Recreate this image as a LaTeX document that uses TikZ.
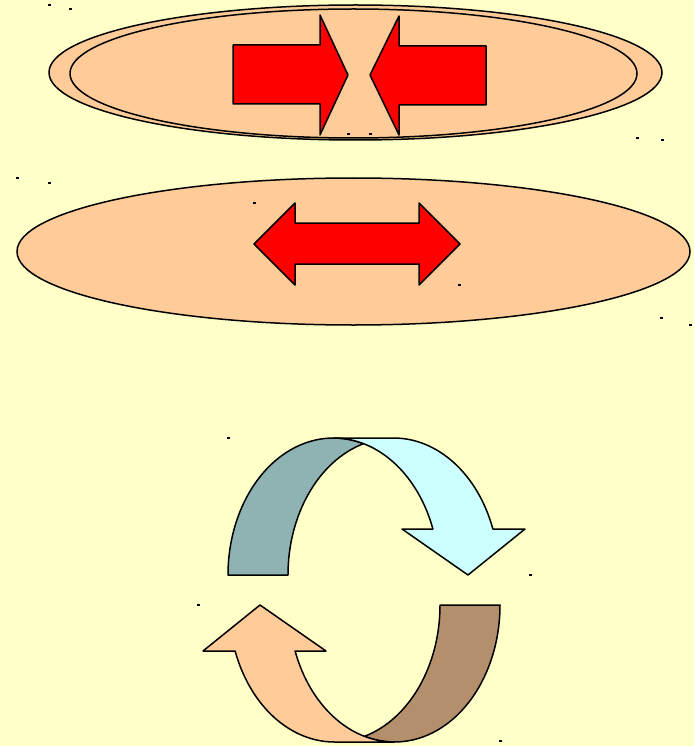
\documentclass[tikz,border=0pt]{standalone}
\usetikzlibrary{calc}
\definecolor{bgyellow}{HTML}{FFFFC8}
\definecolor{peach}{HTML}{FFCC99}
\definecolor{lightcyan}{HTML}{CCFFFF}
\definecolor{darkcyan}{HTML}{8FB3B3}
\definecolor{darkpeach}{HTML}{B38F6B}
\tikzset{
  outl/.style={draw=black, line width=1.5pt, line join=round},
  dotmark/.style={fill=black},
}
\newcommand{\curvedband}[2]{%
  % back band
  \path[outl, fill=#1] (228,575)
    arc[start angle=180, end angle=286.52, x radius=105.5, y radius=137]
    arc[start angle=253.48, end angle=180, x radius=105.5, y radius=137]
    -- cycle;
  % front band with head
  \path[outl, fill=#2] (432.9,529)
    arc[start angle=340.38, end angle=270, x radius=105.5, y radius=137]
    -- (393.5,438)
    arc[start angle=270, end angle=340.38, x radius=105.5, y radius=137]
    -- (525,529) -- (468,575) -- (402,529) -- cycle;
}
\begin{document}
\begin{tikzpicture}[x=1pt, y=-1pt]
\fill[bgyellow] (0,0) rectangle (694,746);
\useasboundingbox (0,0) rectangle (694,746);

% top double ellipse
\path[outl, fill=peach] (355.5,72.5) ellipse[x radius=306.5, y radius=67.5];
\path[outl, fill=peach] (353.5,73.5) ellipse[x radius=283.5, y radius=64.5];

% converging red arrows
\path[outl, fill=red] (233,45) -- (320,45) -- (320,15) -- (348,75) -- (320,135) -- (320,104) -- (233,104) -- cycle;
\path[outl, fill=red] (486,46) -- (399,46) -- (399,16) -- (370,75) -- (399,135) -- (399,105) -- (486,105) -- cycle;

% second ellipse
\path[outl, fill=peach] (353.5,251.5) ellipse[x radius=336.5, y radius=73.5];

% double arrow
\path[outl, fill=red] (254,244) -- (295,203) -- (295,223) -- (419,223) -- (419,203) -- (460,244)
  -- (419,285) -- (419,264) -- (295,264) -- (295,285) -- cycle;

% cyclic arrows
\curvedband{darkcyan}{lightcyan}
\begin{scope}[rotate around={180:(364,590)}]
\curvedband{darkpeach}{peach}
\end{scope}

% small marks
\foreach \p in {(49,5),(70,9),(637,138),(662,140),(17,178),(49,183),(254,203),(459,285),
  (661,318),(690,325),(228,438),(530,575),(198,605),(500,741),(348,134),(370,134)}{
  \fill[dotmark] \p ++(-1.5,-1.2) rectangle ++(3,2.4);
}
\end{tikzpicture}
\end{document}
